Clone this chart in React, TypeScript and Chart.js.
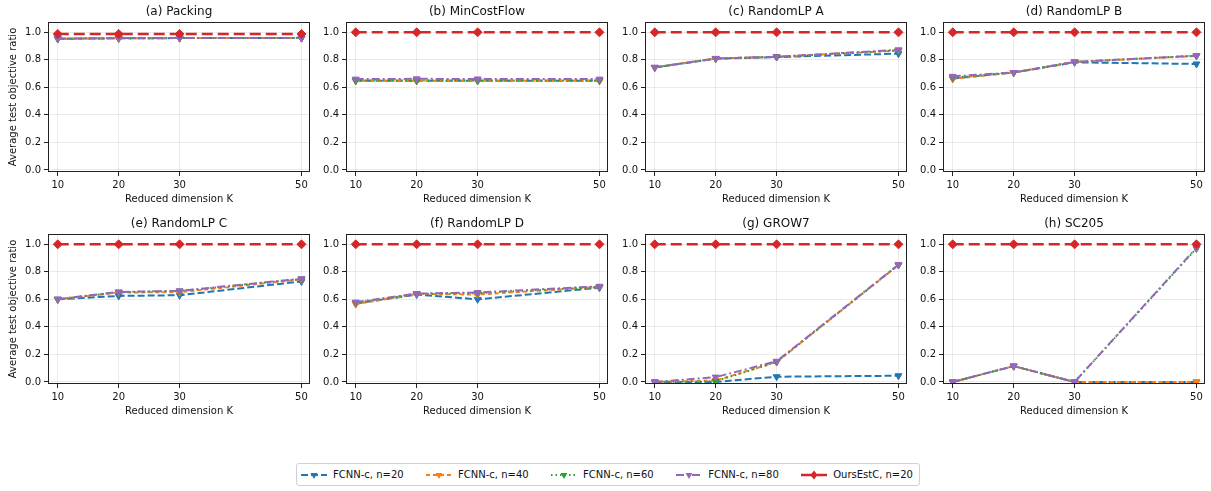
import React, { useEffect, useRef } from 'react';
import { Chart, registerables } from 'chart.js';
Chart.register(...registerables);

const FONT = '"DejaVu Sans", Verdana, sans-serif';

const kValues = [10, 20, 30, 50];
const yTickValues = [0, 0.2, 0.4, 0.6, 0.8, 1.0];
const panelTitles = [
  '(a) Packing', '(b) MinCostFlow', '(c) RandomLP A', '(d) RandomLP B',
  '(e) RandomLP C', '(f) RandomLP D', '(g) GROW7', '(h) SC205',
];
const seriesLabels = ['FCNN-c, n=20', 'FCNN-c, n=40', 'FCNN-c, n=60', 'FCNN-c, n=80', 'OursEstC, n=20'];

// values per panel (a..h), each over K = 10, 20, 30, 50
const fcnnN20 = [
  [0.952, 0.957, 0.958, 0.958],
  [0.648, 0.648, 0.648, 0.648],
  [0.745, 0.808, 0.820, 0.845],
  [0.665, 0.708, 0.782, 0.770],
  [0.600, 0.625, 0.630, 0.730],
  [0.570, 0.635, 0.600, 0.685],
  [0.000, 0.000, 0.038, 0.045],
  [0.000, 0.115, 0.000, 0.000],
];
const fcnnN40 = [
  [0.953, 0.957, 0.958, 0.958],
  [0.648, 0.648, 0.648, 0.648],
  [0.745, 0.810, 0.822, 0.868],
  [0.662, 0.708, 0.785, 0.828],
  [0.600, 0.650, 0.652, 0.745],
  [0.565, 0.640, 0.635, 0.690],
  [0.000, 0.010, 0.145, 0.850],
  [0.000, 0.115, 0.000, 0.000],
];
const fcnnN60 = [
  [0.953, 0.957, 0.958, 0.958],
  [0.650, 0.650, 0.650, 0.650],
  [0.745, 0.810, 0.822, 0.868],
  [0.670, 0.708, 0.785, 0.830],
  [0.600, 0.652, 0.660, 0.748],
  [0.575, 0.640, 0.645, 0.690],
  [0.000, 0.005, 0.145, 0.850],
  [0.000, 0.115, 0.000, 0.970],
];
const fcnnN80 = [
  [0.955, 0.958, 0.959, 0.959],
  [0.660, 0.662, 0.661, 0.660],
  [0.745, 0.810, 0.822, 0.873],
  [0.680, 0.708, 0.785, 0.830],
  [0.602, 0.654, 0.662, 0.750],
  [0.580, 0.642, 0.650, 0.695],
  [0.000, 0.035, 0.150, 0.852],
  [0.000, 0.115, 0.000, 0.975],
];
const oursEstC = [
  [0.988, 0.988, 0.988, 0.988],
  [1.0, 1.0, 1.0, 1.0],
  [1.0, 1.0, 1.0, 1.0],
  [1.0, 1.0, 1.0, 1.0],
  [1.0, 1.0, 1.0, 1.0],
  [1.0, 1.0, 1.0, 1.0],
  [1.0, 1.0, 1.0, 1.0],
  [1.0, 1.0, 1.0, 1.0],
];

const seriesValues = [fcnnN20, fcnnN40, fcnnN60, fcnnN80, oursEstC];
const seriesStyles = [
  { color: '#1f77b4', dash: [7, 3], width: 2, point: 'triangle', rot: 180, r: 4 },
  { color: '#ff7f0e', dash: [4, 3], width: 2, point: 'triangle', rot: 180, r: 4 },
  { color: '#2ca02c', dash: [1.5, 3], width: 2, point: 'triangle', rot: 180, r: 4 },
  { color: '#9467bd', dash: [8, 3, 2, 3], width: 2, point: 'triangle', rot: 180, r: 4 },
  { color: '#d62728', dash: [11, 5], width: 2.5, point: 'rectRot', rot: 0, r: 4.5 },
];

const BOX_LEFTS = [48, 346, 645, 943];
const BOX_TOPS = [22, 234];
const BOX_W = 262;
const BOX_H = 150;
const TITLE_H = 22;
const XAXIS_H = 35;
const RIGHT_PAD = 12;

const framePlugin = {
  id: 'frame',
  afterDatasetsDraw(chart: any) {
    const { ctx, chartArea } = chart;
    ctx.save();
    ctx.strokeStyle = '#222';
    ctx.lineWidth = 1;
    ctx.strokeRect(chartArea.left + 0.5, chartArea.top + 0.5, chartArea.right - chartArea.left - 1, chartArea.bottom - chartArea.top - 1);
    ctx.restore();
  },
};

function Panel({ index }: { index: number }) {
  const ref = useRef<HTMLCanvasElement | null>(null);
  const col = index % 4;
  const row = Math.floor(index / 4);
  const yw = col === 0 ? 48 : 40;
  const left = BOX_LEFTS[col] - yw;
  const top = BOX_TOPS[row] - TITLE_H;
  const width = yw + BOX_W + RIGHT_PAD;
  const height = TITLE_H + BOX_H + XAXIS_H;

  useEffect(() => {
    if (!ref.current) return;
    const tickFont = { family: FONT, size: 10 };
    const gridCfg = { color: 'rgba(0,0,0,0.08)', tickColor: '#222', tickLength: 4, drawTicks: true, lineWidth: 1 };
    const n = seriesValues.length;
    const chart = new Chart(ref.current, {
      type: 'line',
      data: {
        datasets: seriesValues.map((vals, si) => {
          const st = seriesStyles[si];
          return {
            label: seriesLabels[si],
            data: kValues.map((k, i) => ({ x: k, y: vals[index][i] })),
            order: n - si,
            borderColor: st.color,
            backgroundColor: st.color,
            borderDash: st.dash,
            borderWidth: st.width,
            pointStyle: st.point as any,
            pointRotation: st.rot,
            pointRadius: st.r,
            pointBorderWidth: 1,
            pointBackgroundColor: st.color,
            pointBorderColor: st.color,
            tension: 0,
            fill: false,
          };
        }),
      },
      options: {
        animation: false,
        responsive: false,
        maintainAspectRatio: false,
        devicePixelRatio: 1,
        events: [],
        layout: { padding: { left: 0, right: RIGHT_PAD, top: 0, bottom: 0 }, autoPadding: false },
        plugins: {
          legend: { display: false },
          tooltip: { enabled: false },
          title: {
            display: true,
            fullSize: false,
            text: panelTitles[index],
            color: '#111',
            font: { family: FONT, size: 12, weight: 'normal', lineHeight: 1.25 },
            padding: { top: 4, bottom: 3 },
          },
        },
        scales: {
          x: {
            type: 'linear',
            min: 8.4,
            max: 51.4,
            afterBuildTicks: (s: any) => { s.ticks = kValues.map((v) => ({ value: v })); },
            afterFit: (s: any) => { s.height = XAXIS_H; },
            ticks: { font: tickFont, color: '#111', padding: 3, maxRotation: 0, autoSkip: false, callback: (v: any) => String(v) },
            grid: gridCfg,
            border: { display: false },
            title: { display: true, text: 'Reduced dimension K', color: '#111', font: { family: FONT, size: 10 }, padding: { top: 0, bottom: 2 } },
          },
          y: {
            type: 'linear',
            min: -0.015,
            max: 1.075,
            afterBuildTicks: (s: any) => { s.ticks = yTickValues.map((v) => ({ value: v })); },
            afterFit: (s: any) => { s.width = yw; },
            ticks: { font: tickFont, color: '#111', padding: 3, callback: (v: any) => Number(v).toFixed(1) },
            grid: gridCfg,
            border: { display: false },
            title: { display: col === 0, text: 'Average test objective ratio', color: '#111', font: { family: FONT, size: 10 }, padding: { top: 7, bottom: 0 } },
          },
        },
      },
      plugins: [framePlugin],
    } as any);
    return () => chart.destroy();
  }, [index]);

  return (
    <canvas
      ref={ref}
      width={width}
      height={height}
      style={{ position: 'absolute', left, top, width, height }}
    />
  );
}

function LegendHandle({ si }: { si: number }) {
  const st = seriesStyles[si];
  const w = 26;
  const h = 12;
  const cy = h / 2;
  const cx = w / 2;
  let marker;
  if (st.point === 'rectRot') {
    const r = st.r;
    marker = <polygon points={`${cx},${cy - r} ${cx + r * 0.8},${cy} ${cx},${cy + r} ${cx - r * 0.8},${cy}`} fill={st.color} />;
  } else {
    const r = st.r;
    const hw = r * 0.866;
    marker = <polygon points={`${cx - hw},${cy - r / 2} ${cx + hw},${cy - r / 2} ${cx},${cy + r}`} fill={st.color} />;
  }
  return (
    <svg width={w} height={h} style={{ display: 'block' }}>
      <line x1={0} y1={cy} x2={w} y2={cy} stroke={st.color} strokeWidth={st.width} strokeDasharray={st.dash.join(' ')} />
      {marker}
    </svg>
  );
}

function Legend() {
  return (
    <div
      style={{
        position: 'absolute',
        left: 296,
        top: 463,
        width: 624,
        height: 23,
        boxSizing: 'border-box',
        border: '1px solid #d0d0d0',
        borderRadius: 3,
        background: '#fff',
        display: 'flex',
        alignItems: 'center',
        justifyContent: 'space-between',
        padding: '0 6px 0 4px',
        fontFamily: FONT,
        fontSize: 10,
        color: '#111',
      }}
    >
      {seriesLabels.map((lab, si) => (
        <div key={si} style={{ display: 'flex', alignItems: 'center', gap: 6 }}>
          <LegendHandle si={si} />
          <span style={{ whiteSpace: 'nowrap' }}>{lab}</span>
        </div>
      ))}
    </div>
  );
}

export default function App() {
  return (
    <div style={{ position: 'absolute', left: 0, top: 0, width: 1211, height: 491, background: '#fff', overflow: 'hidden' }}>
      {panelTitles.map((_, i) => (
        <Panel key={i} index={i} />
      ))}
      <Legend />
    </div>
  );
}
